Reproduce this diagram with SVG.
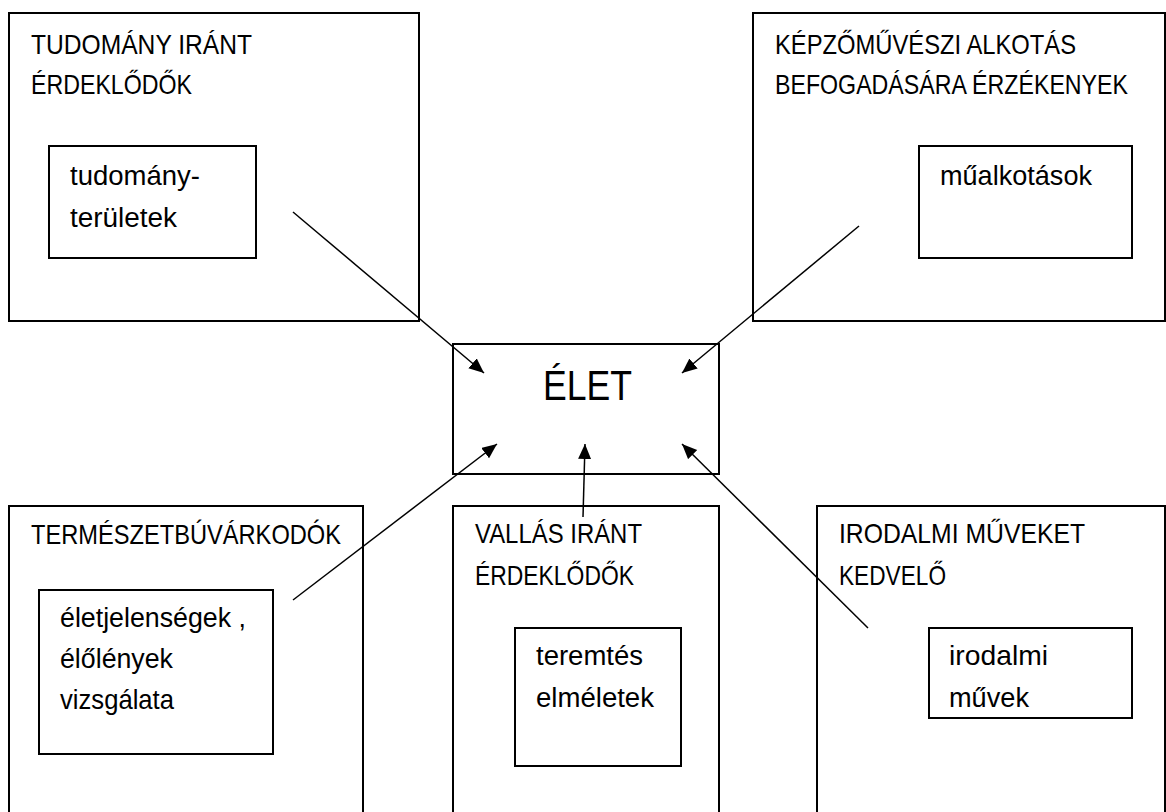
<svg xmlns="http://www.w3.org/2000/svg" width="1166" height="812" viewBox="0 0 1166 812">
<style>
.box{fill:none;stroke:#000;stroke-width:2}
.t{font-family:"Liberation Sans",Arial,sans-serif;font-size:27.5px;fill:#000}
.big{font-family:"Liberation Sans",Arial,sans-serif;font-size:42px;fill:#000}
.c{stroke:#000;stroke-width:1.5;fill:none;marker-end:url(#ah)}
</style>
<defs>
<marker id="ah" markerUnits="userSpaceOnUse" markerWidth="16" markerHeight="14" refX="15" refY="6.5" orient="auto">
<path d="M0,0 L15,6.5 L0,13 z" fill="#000"/>
</marker>
</defs>
<rect width="1166" height="812" fill="#fff"/>
<g id="tudomany">
<rect class="box" x="9" y="13" width="410" height="308"/>
<text class="t" x="31" y="54" textLength="221" lengthAdjust="spacingAndGlyphs">TUDOMÁNY IRÁNT</text>
<text class="t" x="31" y="94" textLength="161" lengthAdjust="spacingAndGlyphs">ÉRDEKLŐDŐK</text>
<rect class="box" x="49" y="146" width="207" height="112"/>
<text class="t" x="70" y="185" textLength="130" lengthAdjust="spacingAndGlyphs">tudomány-</text>
<text class="t" x="70" y="227" textLength="107" lengthAdjust="spacingAndGlyphs">területek</text>
</g>
<g id="kepzomuveszi">
<rect class="box" x="753" y="13" width="412" height="308"/>
<text class="t" x="775" y="54" textLength="301" lengthAdjust="spacingAndGlyphs">KÉPZŐMŰVÉSZI ALKOTÁS</text>
<text class="t" x="775" y="94" textLength="353" lengthAdjust="spacingAndGlyphs">BEFOGADÁSÁRA ÉRZÉKENYEK</text>
<rect class="box" x="919" y="146" width="213" height="112"/>
<text class="t" x="940" y="185" textLength="152" lengthAdjust="spacingAndGlyphs">műalkotások</text>
</g>
<g id="elet">
<rect class="box" x="453" y="344" width="266" height="130"/>
<text class="big" x="543" y="400" textLength="89" lengthAdjust="spacingAndGlyphs">ÉLET</text>
</g>
<g id="termeszet">
<rect class="box" x="9" y="506" width="354" height="320"/>
<text class="t" x="31" y="544" textLength="310" lengthAdjust="spacingAndGlyphs">TERMÉSZETBÚVÁRKODÓK</text>
<rect class="box" x="39" y="590" width="234" height="164"/>
<text class="t" x="60" y="627" textLength="186" lengthAdjust="spacingAndGlyphs">életjelenségek ,</text>
<text class="t" x="60" y="668" textLength="113" lengthAdjust="spacingAndGlyphs">élőlények</text>
<text class="t" x="60" y="709" textLength="114" lengthAdjust="spacingAndGlyphs">vizsgálata</text>
</g>
<g id="vallas">
<rect class="box" x="453" y="506" width="266" height="320"/>
<text class="t" x="475" y="543" textLength="167" lengthAdjust="spacingAndGlyphs">VALLÁS IRÁNT</text>
<text class="t" x="475" y="585" textLength="159" lengthAdjust="spacingAndGlyphs">ÉRDEKLŐDŐK</text>
<rect class="box" x="515" y="628" width="166" height="138"/>
<text class="t" x="536" y="665" textLength="107" lengthAdjust="spacingAndGlyphs">teremtés</text>
<text class="t" x="536" y="707" textLength="118" lengthAdjust="spacingAndGlyphs">elméletek</text>
</g>
<g id="irodalmi">
<rect class="box" x="817" y="506" width="348" height="320"/>
<text class="t" x="839" y="543" textLength="246" lengthAdjust="spacingAndGlyphs">IRODALMI MŰVEKET</text>
<text class="t" x="839" y="585" textLength="107" lengthAdjust="spacingAndGlyphs">KEDVELŐ</text>
<rect class="box" x="929" y="628" width="203" height="90"/>
<text class="t" x="949" y="665" textLength="99" lengthAdjust="spacingAndGlyphs">irodalmi</text>
<text class="t" x="949" y="707" textLength="80" lengthAdjust="spacingAndGlyphs">művek</text>
</g>
<g id="connectors">
<line class="c" x1="293" y1="212" x2="484" y2="373"/>
<line class="c" x1="859" y1="226" x2="682" y2="373"/>
<line class="c" x1="293" y1="600" x2="497" y2="444"/>
<line class="c" x1="583" y1="517" x2="585" y2="444"/>
<line class="c" x1="868" y1="628" x2="682" y2="444"/>
</g>
</svg>
